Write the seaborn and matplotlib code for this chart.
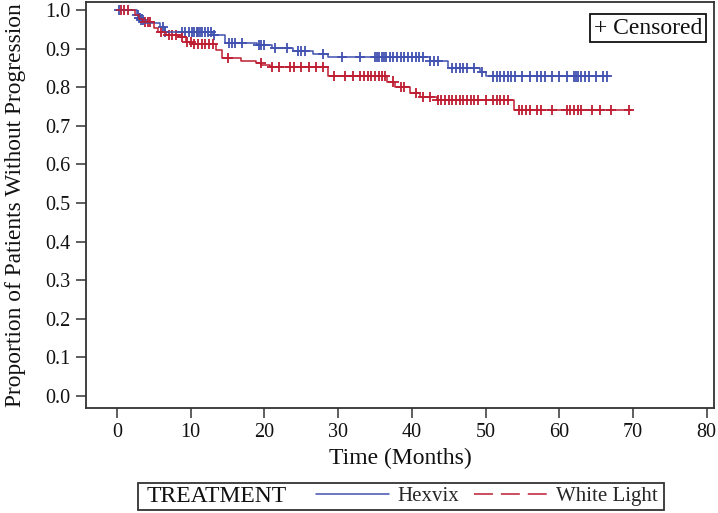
import numpy as np
import pandas as pd
import matplotlib
matplotlib.use('Agg')
import matplotlib.pyplot as plt
from matplotlib.lines import Line2D
from matplotlib.patches import Rectangle
import seaborn as sns

# Kaplan-Meier step curves (event times in months, survival after the step)
hex_times = [0, 2.7, 3.0, 3.2, 3.7, 5.8, 6.5, 13.0, 14.6, 19.0, 21.0, 23.9, 26.6, 28.6,
             42.4, 44.9, 49.2, 50.1, 66.8]
hex_surv = [1.0, 0.987, 0.979, 0.974, 0.966, 0.956, 0.943, 0.935, 0.915, 0.909, 0.902,
            0.894, 0.886, 0.878, 0.868, 0.850, 0.840, 0.828, 0.828]

wl_times = [0, 2.5, 3.0, 3.5, 5.0, 5.5, 6.7, 8.4, 9.3, 10.2, 13.4, 14.2, 16.8, 18.8,
            19.6, 20.7, 28.6, 36.6, 37.7, 39.7, 41.1, 43.4, 53.8, 69.8]
wl_surv = [1.0, 0.987, 0.978, 0.969, 0.953, 0.943, 0.935, 0.930, 0.917, 0.912, 0.896,
           0.876, 0.868, 0.863, 0.858, 0.853, 0.829, 0.815, 0.800, 0.785, 0.775, 0.767,
           0.741, 0.741]

# censoring times (months)
hex_cens = [0.3, 2.8, 3.0, 3.1, 3.3, 3.5, 6.2, 6.5, 8.8, 9.2, 9.8, 10.2, 10.5, 10.8, 11.0,
            11.3, 11.6, 12.0, 12.3, 12.8, 13.1, 15.2, 15.6, 16.0, 17.0, 19.2, 19.6, 20.0,
            21.5, 23.0, 24.5, 25.0, 25.5, 28.0, 30.5, 33.0, 35.0, 35.3, 35.6, 35.9, 36.2,
            36.5, 37.0, 37.5, 38.0, 38.5, 39.0, 39.5, 40.0, 40.5, 41.0, 41.5, 42.5, 43.0,
            43.5, 45.5, 46.0, 46.5, 47.0, 47.5, 48.5, 49.5, 51.0, 51.5, 52.0, 52.5, 53.0,
            53.5, 54.0, 55.0, 56.0, 57.0, 57.5, 58.0, 59.0, 60.0, 61.0, 62.0, 62.3, 62.6,
            63.0, 63.5, 64.0, 65.0, 66.0, 66.5]
wl_cens = [0.5, 1.0, 1.5, 3.8, 4.2, 4.5, 6.0, 7.0, 7.5, 8.0, 8.8, 9.5, 10.0, 10.5, 11.0,
           11.5, 12.0, 12.5, 13.0, 15.0, 19.5, 21.0, 22.0, 23.5, 24.0, 25.0, 26.0, 27.0,
           28.0, 29.5, 31.0, 32.0, 33.0, 33.5, 34.0, 34.5, 35.0, 35.5, 36.0, 36.3, 37.5,
           38.5, 39.0, 40.5, 41.5, 42.5, 43.5, 44.0, 44.5, 45.0, 45.5, 46.0, 46.5, 47.0,
           47.5, 48.0, 48.5, 49.0, 50.0, 51.0, 51.5, 52.0, 52.5, 53.0, 54.5, 55.0, 55.5,
           56.0, 57.0, 57.5, 59.0, 61.0, 61.5, 62.0, 62.5, 63.0, 64.5, 65.5, 67.0, 69.5]

groups = ['Hexvix', 'White Light']
colors = {'Hexvix': '#4152B0', 'White Light': '#BE1E32'}


def surv_at(times, surv, t):
    idx = np.searchsorted(times, t, side='right') - 1
    return np.asarray(surv)[idx]


curves = pd.concat([
    pd.DataFrame({'time': hex_times, 'surv': hex_surv, 'group': 'Hexvix'}),
    pd.DataFrame({'time': wl_times, 'surv': wl_surv, 'group': 'White Light'}),
])
cens = pd.concat([
    pd.DataFrame({'time': hex_cens, 'surv': surv_at(hex_times, hex_surv, hex_cens),
                  'group': 'Hexvix'}),
    pd.DataFrame({'time': wl_cens, 'surv': surv_at(wl_times, wl_surv, wl_cens),
                  'group': 'White Light'}),
])

sns.set_theme(style='white')
plt.rcParams['font.family'] = ['Liberation Serif', 'DejaVu Serif']
plt.rcParams['axes.edgecolor'] = '#333333'
plt.rcParams['axes.linewidth'] = 1.3

fig = plt.figure(figsize=(7.18, 5.13), dpi=100)
ax = fig.add_axes([0.1198, 0.2047, 0.8747, 0.7914])

sns.lineplot(data=curves, x='time', y='surv', hue='group', palette=colors,
             drawstyle='steps-post', estimator=None, sort=False, linewidth=1.1,
             legend=False, ax=ax)
sns.scatterplot(data=cens, x='time', y='surv', hue='group', palette=colors,
                marker='+', s=55, linewidth=1.3, legend=False, ax=ax)

ax.set_xlim(-4.2, 81)
ax.set_ylim(-0.031, 1.021)
ax.set_xticks(range(0, 81, 10))
ax.set_yticks(np.arange(0, 1.01, 0.1))
ax.set_yticklabels([f'{v:.1f}' for v in np.arange(0, 1.01, 0.1)])
ax.tick_params(axis='both', which='major', direction='out', length=7, width=1.1,
               color='#333333', labelsize=14.5, labelcolor='#111111',
               bottom=True, left=True, pad=4)
ax.set_xlabel('Time (Months)', fontsize=17, color='#111111', labelpad=4)
ax.set_ylabel('Proportion of Patients Without Progression', fontsize=16.8,
              color='#111111', labelpad=14)

ax.text(0.981, 0.935, '+ Censored', transform=ax.transAxes, ha='right', va='center',
        fontsize=17, color='#111111',
        bbox=dict(boxstyle='square,pad=0.15', facecolor='white', edgecolor='#111111',
                  linewidth=1.3))

# bottom legend box
fig.patches.append(Rectangle((0.192, 0.006), 0.733, 0.053, transform=fig.transFigure,
                             fill=False, edgecolor='#333333', linewidth=1.3))
fig.text(0.204, 0.033, 'TREATMENT', ha='left', va='center', fontsize=17, color='#111111')
handles = [Line2D([], [], color=colors['Hexvix'], linewidth=1.1),
           Line2D([], [], color=colors['White Light'], linewidth=1.1, dashes=(12.4, 5.2))]
fig.legend(handles, groups, loc='center left', bbox_to_anchor=(0.440, 0.033), ncol=2,
           frameon=False, fontsize=15, handlelength=3.5, handletextpad=0.42,
           columnspacing=0.7, borderpad=0, borderaxespad=0)

fig.savefig('out.png', dpi=100)
